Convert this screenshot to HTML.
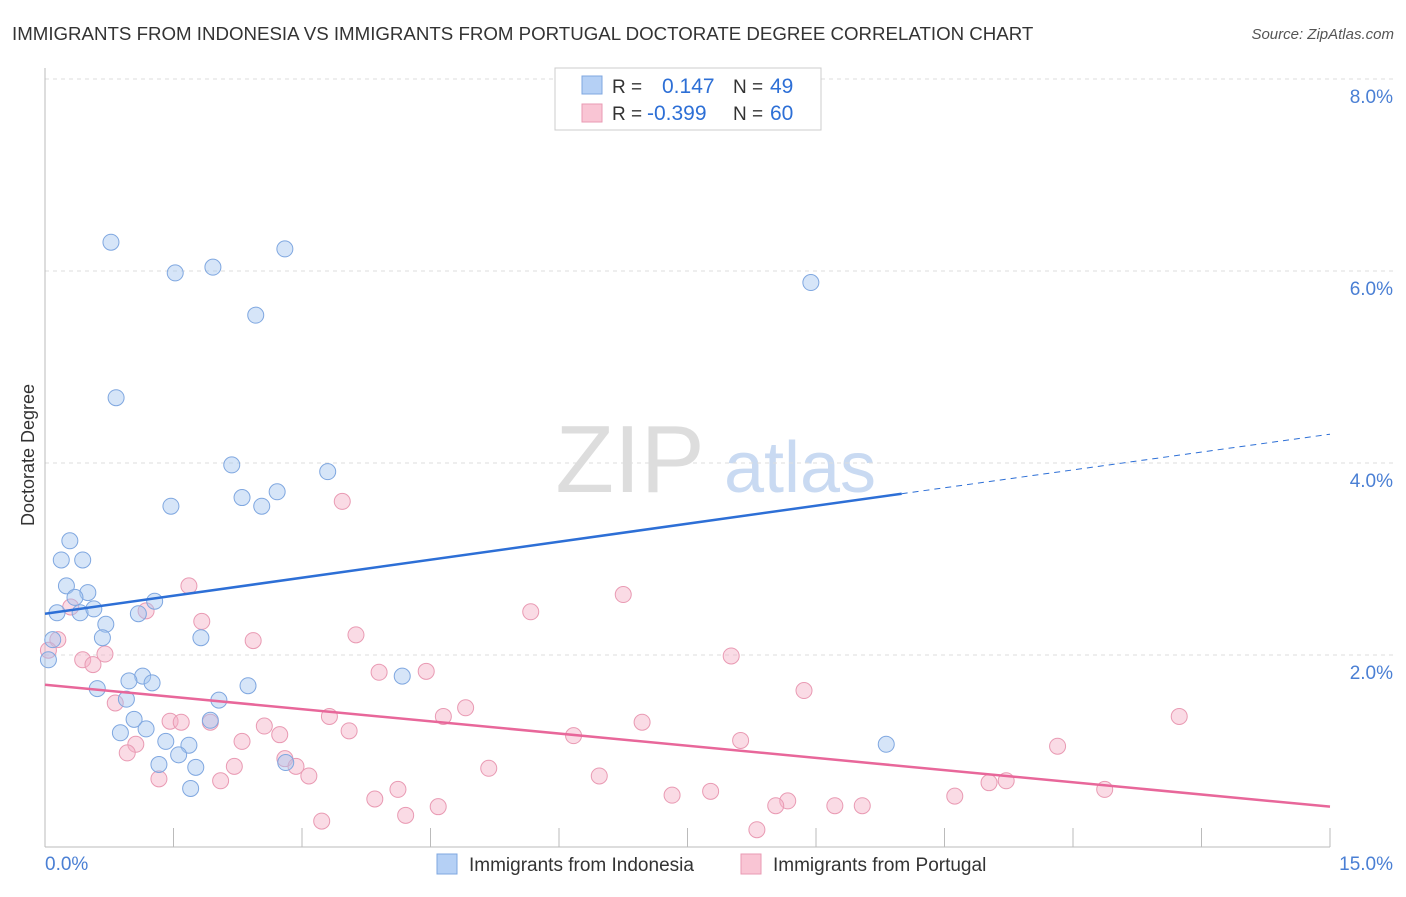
<!DOCTYPE html>
<html><head><meta charset="utf-8"><style>
body{margin:0;background:#fff;font-family:"Liberation Sans",sans-serif}
svg text{font-family:"Liberation Sans",sans-serif}
</style></head><body>
<svg width="1406" height="892" xmlns="http://www.w3.org/2000/svg">
<text x="12" y="40" font-size="18.7" fill="#333">IMMIGRANTS FROM INDONESIA VS IMMIGRANTS FROM PORTUGAL DOCTORATE DEGREE CORRELATION CHART</text>
<text x="1394" y="39" font-size="15" fill="#555" text-anchor="end" font-style="italic">Source: ZipAtlas.com</text>
<text x="630" y="492" font-size="96" fill="#ddd" font-family="Liberation Serif" text-anchor="middle">ZIP</text>
<text x="800" y="492" font-size="72" fill="#c9daf2" text-anchor="middle">atlas</text>
<text x="34" y="455" font-size="18" fill="#333" transform="rotate(-90 34 455)" text-anchor="middle">Doctorate Degree</text>
<g id="axes"></g>
<g id="marks"></g>
<g>
<rect x="555" y="68" width="266" height="62" fill="#fff" stroke="#ccc"/>
<rect x="582" y="76" width="20" height="18" fill="#b5d0f5" stroke="#7fa7e0"/>
<rect x="582" y="104" width="20" height="18" fill="#f9c5d4" stroke="#e99ab3"/>
<text x="612" y="93" font-size="19" fill="#333">R =</text><text x="662" y="93" font-size="21" fill="#2d6fd6">0.147</text>
<text x="733" y="93" font-size="19" fill="#333">N =</text><text x="770" y="93" font-size="21" fill="#2d6fd6">49</text>
<text x="612" y="120" font-size="19" fill="#333">R =</text><text x="647" y="120" font-size="21" fill="#2d6fd6">-0.399</text>
<text x="733" y="120" font-size="19" fill="#333">N =</text><text x="770" y="120" font-size="21" fill="#2d6fd6">60</text>
</g>
<g>
<rect x="437" y="854" width="20" height="20" fill="#b5d0f5" stroke="#7fa7e0"/>
<text x="469" y="871" font-size="19" fill="#333">Immigrants from Indonesia</text>
<rect x="741" y="854" width="20" height="20" fill="#f9c5d4" stroke="#e99ab3"/>
<text x="773" y="871" font-size="19" fill="#333">Immigrants from Portugal</text>
</g>
</svg>
<script>
const yTicks=[2,4,6,8];
const yTickLabels=["2.0%","4.0%","6.0%","8.0%"];
const xTicks=[0,1.5,3,4.5,6,7.5,9,10.5,12,13.5,15];
const blueX=[0.77,1.52,1.96,2.80,2.46,0.83,8.94,2.18,3.30,1.47,2.30,2.53,2.71,0.29,0.19,0.44,0.25,0.50,0.35,0.14,0.41,0.57,1.28,1.09,0.71,0.67,1.82,0.09,0.04,1.14,0.98,1.25,2.37,0.61,4.17,0.95,2.03,1.04,1.93,0.88,1.18,1.41,1.68,1.56,1.33,1.76,2.81,1.70,9.82];
const blueY=[6.30,5.98,6.04,6.23,5.54,4.68,5.88,3.98,3.91,3.55,3.64,3.55,3.70,3.19,2.99,2.99,2.72,2.65,2.60,2.44,2.44,2.48,2.56,2.43,2.32,2.18,2.18,2.16,1.95,1.78,1.73,1.71,1.68,1.65,1.78,1.54,1.53,1.33,1.32,1.19,1.23,1.10,1.06,0.96,0.86,0.83,0.88,0.61,1.07];
const pinkX=[3.47,1.68,6.75,5.67,1.18,0.30,1.83,3.63,2.43,0.15,0.04,0.70,0.44,0.56,8.01,3.90,4.45,8.86,0.82,1.46,1.59,1.93,3.32,4.65,4.91,6.97,13.24,2.56,2.74,3.55,2.30,6.17,8.12,11.82,1.06,0.96,2.80,2.93,2.21,5.18,1.33,2.05,3.08,6.47,4.12,7.77,3.85,7.32,8.67,8.53,9.22,9.54,10.62,11.02,11.22,12.37,4.59,4.21,3.23,8.31];
const pinkY=[3.60,2.72,2.63,2.45,2.46,2.50,2.35,2.21,2.15,2.16,2.05,2.01,1.95,1.90,1.99,1.82,1.83,1.63,1.50,1.31,1.30,1.30,1.36,1.36,1.45,1.30,1.36,1.26,1.17,1.21,1.10,1.16,1.11,1.05,1.07,0.98,0.92,0.84,0.84,0.82,0.71,0.69,0.74,0.74,0.60,0.58,0.50,0.54,0.48,0.43,0.43,0.43,0.53,0.67,0.69,0.60,0.42,0.33,0.27,0.18];
const blueTrend=[2.43,3.68,4.30];
const pinkTrend=[1.69,0.42];
const NS="http://www.w3.org/2000/svg";
const X=v=>45+v*(1285/15), Y=v=>847-v*96;
function mk(t,a,p){const e=document.createElementNS(NS,t);for(const k in a)e.setAttribute(k,a[k]);p.appendChild(e);return e;}
const ax=document.getElementById('axes'), mg=document.getElementById('marks');
yTicks.forEach((v,i)=>{
 const g=mk('line',{x1:45,x2:1394,y1:Y(v),y2:Y(v),stroke:'#ddd','stroke-dasharray':'4,4'},ax);
 
 
 const t=mk('text',{x:1393,y:Y(v)+24,'font-size':19,fill:'#4a7fd4','text-anchor':'end'},ax);t.textContent=yTickLabels[i];
 
 
});
mk('line',{x1:45,x2:1394,y1:79,y2:79,stroke:'#ddd','stroke-dasharray':'4,4'},ax);
mk('line',{x1:45,x2:45,y1:68,y2:847,stroke:'#bbb'},ax);
mk('line',{x1:45,x2:1330,y1:847,y2:847,stroke:'#bbb'},ax);
xTicks.forEach(v=>{const l=mk('line',{x1:X(v),x2:X(v),y1:828,y2:847,stroke:'#bbb'},ax);
 
 });
let t0=mk('text',{x:45,y:870,'font-size':19,fill:'#4a7fd4'},ax);t0.textContent="0.0%";


let t1=mk('text',{x:1393,y:870,'font-size':19,fill:'#4a7fd4','text-anchor':'end'},ax);t1.textContent="15.0%";


pinkX.forEach((x,i)=>{const c=mk('circle',{cx:X(x),cy:Y(pinkY[i]),r:8,fill:'rgba(245,175,198,0.45)',stroke:'#e99ab3','stroke-width':1},mg);
 
 });
blueX.forEach((x,i)=>{const c=mk('circle',{cx:X(x),cy:Y(blueY[i]),r:8,fill:'rgba(165,197,240,0.45)',stroke:'#7fa7e0','stroke-width':1},mg);
 
 });
const bl=mk('line',{x1:X(0),y1:Y(blueTrend[0]),x2:X(10),y2:Y(blueTrend[1]),stroke:'#2d6fd6','stroke-width':2.5},mg);


const bd=mk('line',{x1:X(10),y1:Y(blueTrend[1]),x2:X(15),y2:Y(blueTrend[2]),stroke:'#2d6fd6','stroke-width':1,'stroke-dasharray':'6,5'},mg);


const pl=mk('line',{x1:X(0),y1:Y(pinkTrend[0]),x2:X(15),y2:Y(pinkTrend[1]),stroke:'#e8679a','stroke-width':2.5},mg);


</script>
</body></html>
